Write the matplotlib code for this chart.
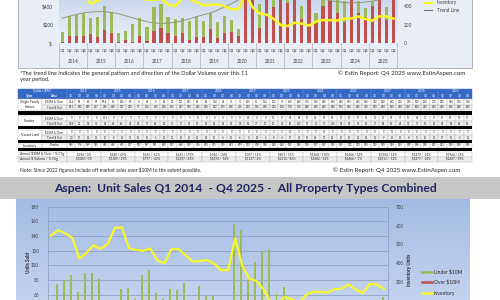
import numpy as np
import matplotlib.pyplot as plt
from matplotlib.patches import Rectangle
from matplotlib.colors import to_rgb

plt.rcParams['font.family'] = ['Lato', 'DejaVu Sans']
plt.rcParams['text.parse_math'] = False

years = [str(y) for y in range(2014, 2026)]
quarters = ['Q1', 'Q2', 'Q3', 'Q4']

# Top chart: dollar volume ($M) per quarter, all property types
dollar_total = [125, 293, 303, 321, 275, 286, 400, 339, 114, 136, 207, 268,
                179, 393, 421, 286, 257, 275, 243, 293, 239, 329, 225, 293,
                250, 150, 780, 820, 421, 700, 470, 760, 560, 700, 400, 800,
                327, 520, 720, 460, 455, 650, 455, 375, 450, 700, 392, 680]
dollar_over10 = [18, 82, 79, 82, 96, 71, 143, 114, 18, 36, 18, 82,
                 29, 132, 161, 107, 82, 114, 36, 71, 71, 154, 61, 114,
                 124, 78, 650, 700, 160, 560, 385, 620, 431, 600, 257, 680,
                 231, 400, 600, 327, 231, 540, 327, 285, 400, 580, 249, 560]
trend_line = [270, 290, 310, 325, 335, 340, 338, 330, 315, 295, 272, 250,
              232, 218, 214, 216, 225, 240, 262, 285, 305, 325, 355, 390,
              425, 465, 510, 550, 585, 610, 620, 620, 610, 590, 565, 535,
              505, 478, 458, 445, 437, 434, 436, 442, 452, 468, 490, 515]
inventory = [546, 576, 559, 535, 425, 456, 495, 477, 502, 587, 591, 480,
             471, 466, 479, 416, 400, 475, 475, 443, 409, 412, 418, 398,
             364, 364, 532, 386, 318, 307, 262, 195, 185, 222, 210, 190,
             232, 250, 248, 245, 262, 266, 288, 262, 243, 290, 288, 265]

# Bottom chart: units sold per quarter
units_under10 = [45, 74, 80, 87, 64, 89, 90, 82, 40, 48, 68, 69,
                 54, 87, 94, 63, 54, 68, 66, 76, 50, 72, 58, 60,
                 52, 38, 157, 148, 80, 104, 119, 122, 63, 70, 45, 42,
                 38, 44, 40, 47, 39, 45, 48, 50, 41, 46, 49, 57]
units_over10 = [1, 4, 4, 4, 4, 3, 6, 5, 1, 2, 1, 4,
                1, 5, 7, 5, 4, 5, 2, 3, 3, 6, 3, 5,
                5, 3, 17, 19, 7, 14, 10, 16, 11, 14, 7, 16,
                7, 10, 14, 9, 7, 13, 9, 8, 10, 14, 7, 13]

# Table rows ($M)
sfh_over = [24.6, 85, 86, 99, 99.4, 61, 146, 95, 0, 36, 0, 82,
            29, 111, 145, 96, 82, 114, 36, 71, 71, 140, 61, 114,
            113, 78, 610, 640, 150, 530, 360, 560, 420, 560, 240, 650,
            220, 380, 560, 300, 220, 500, 300, 270, 380, 540, 230, 520]
sfh_total = [95.3, 282, 259, 307, 236, 240, 397, 330, 77, 124, 165, 224,
             165, 347, 390, 262, 230, 252, 205, 268, 216, 300, 195, 268,
             224, 130, 700, 760, 360, 640, 440, 680, 500, 650, 360, 740,
             290, 480, 650, 420, 410, 600, 420, 340, 420, 640, 360, 620]
condo_over = [0, 0, 0, 0, 13.2, 0, 0, 0, 0, 0, 0, 0,
              0, 0, 0, 11, 0, 0, 0, 0, 0, 14, 0, 0,
              11, 0, 36, 48, 10, 24, 25, 54, 11, 30, 17, 24,
              11, 20, 32, 27, 11, 24, 27, 15, 20, 30, 19, 27]
condo_total = [26.8, 21, 35, 76, 36, 46, 66, 44, 25, 57, 48, 38,
               51, 37, 35, 35, 25, 24, 34, 28, 22, 56, 37, 31,
               23, 47, 80, 112, 79, 51, 75, 138, 54, 92, 78, 81,
               37, 83, 55, 46, 31, 73, 55, 28, 45, 69, 48, 65]
land_over = [0, 0, 0, 0, 0, 0, 0, 0, 0, 0, 0, 0,
             0, 0, 0, 0, 0, 0, 0, 0, 0, 0, 0, 0,
             0, 0, 12, 0, 0, 0, 16, 0, 0, 0, 0, 0,
             0, 0, 11, 0, 0, 0, 0, 0, 0, 0, 0, 0]
land_total = [3.2, 17, 14, 12, 10, 8, 18, 15, 12, 12, 5, 11,
              11, 13, 10, 21, 14, 10, 8, 15, 6, 8, 14, 8,
              8, 4, 17, 20, 13, 24, 17, 14, 10, 13, 12, 14,
              11, 9, 16, 13, 8, 15, 12, 10, 17, 11, 9, 13]
annual_over = ['$296 / 0%', '$440 / 49%', '$165 / -62%', '$453 / 175%',
               '$346 / -24%', '$397 / 15%', '$601 / 51%', '$1264 / 110%',
               '$1666 / 32%', '$1904 / 14%', '$1479 / -22%', '$1964 / 33%']
annual_total = ['$1080 / 0%', '$1389 / 29%', '$797 / -43%', '$1297 / 63%',
                '$1090 / -16%', '$1137 / 4%', '$2113 / 86%', '$2882 / 36%',
                '$2866 / -1%', '$2513 / -12%', '$1877 / -25%', '$2607 / 39%']

GREEN = '#9bbb59'
RED = '#c0504d'
YELLOW = '#f7f72a'
TREND = '#8c9c72'
W, H = 500, 300


def box(x0, y0, x1, y1):
    # pixel box (y measured from the top) -> figure rect
    return [x0 / W, 1 - y1 / H, (x1 - x0) / W, (y1 - y0) / H]


def gradient(ax, x0, y0, x1, y1, c_top, c_bot):
    t = np.linspace(0, 1, 64)[:, None, None]
    arr = (1 - t) * np.array(to_rgb(c_top)) + t * np.array(to_rgb(c_bot))
    ax.imshow(arr, extent=(x0, x1, y1, y0), origin='upper', aspect='auto',
              interpolation='bilinear', zorder=0)


fig = plt.figure(figsize=(5, 3), dpi=100)
bg = fig.add_axes([0, 0, 1, 1], zorder=0)

# ---------- top chart panel ----------
bg.add_patch(Rectangle((18, -3), 454, 71, facecolor='#e9eef6', edgecolor='#a6a6a6', lw=0.6, zorder=0))
gradient(bg, 58.9, -4, 397, 43.3, '#c6d5ec', '#edf2f9')

x = np.arange(48)
green_part = [t - o for t, o in zip(dollar_total, dollar_over10)]

ax1 = fig.add_axes(box(58.9, 43.3 - 500 * 0.0933, 397, 43.3), zorder=2)
ax1.patch.set_alpha(0)
ax1.bar(x, dollar_over10, width=0.45, color=RED)
ax1.bar(x, green_part, bottom=dollar_over10, width=0.45, color=GREEN)
ax1.plot(x, trend_line, color=TREND, lw=0.7)
ax1.set_xlim(-0.5, 47.5)
ax1.set_ylim(0, 500)
ax1.set_yticks([0, 200, 400])
ax1.set_yticklabels(['$-', '$200', '$400'])
ax1.set_xticks(x)
ax1.set_xticklabels(quarters * 12)
ax1.tick_params(axis='x', length=0, pad=3.5, labelsize=3.0, colors='#404040')
ax1.tick_params(axis='y', length=0, pad=4, labelsize=3.4, colors='#404040')
for s in ax1.spines.values():
    s.set_visible(False)
ax1.axhline(0, color='#8c8c8c', lw=0.5)
xt = ax1.get_xaxis_transform()
for k, yr in enumerate(years):
    ax1.text(4 * k + 1.5, -0.40, yr, transform=xt, ha='center', va='center',
             fontsize=3.3, color='#404040')
for k in range(13):
    ax1.plot([4 * k - 0.5] * 2, [0, -0.53], transform=xt, color='#a0a0a0',
             lw=0.4, clip_on=False)

ax2 = ax1.twinx()
ax2.plot(x, inventory, color=YELLOW, lw=1.8)
ax2.set_ylim(0, 500)
ax2.set_yticks([0, 200, 400])
ax2.tick_params(axis='y', length=0, pad=5, labelsize=3.4, colors='#404040')
for s in ax2.spines.values():
    s.set_visible(False)

# top legend
bg.plot([424, 432], [2.6, 2.6], color=YELLOW, lw=1.5)
bg.text(437, 2.6, 'Inventory', fontsize=3.4, va='center', color='#404040')
bg.plot([424, 432], [10, 10], color='#6e6e6e', lw=0.8)
bg.text(437, 10, 'Trend Line', fontsize=3.4, va='center', color='#404040')

# caption
bg.text(20, 73, '*The trend line indicates the general pattern and direction of the Dollar Volume over this 11',
        fontsize=4.1, va='center', color='#262626')
bg.text(20, 80, 'year period.', fontsize=4.1, va='center', color='#262626')
bg.text(465, 73, '\u00a9 Estin Report: Q4 2025 www.EstinAspen.com', fontsize=4.4,
        va='center', ha='right', color='#262626')

# ---------- table ----------
xq0, xq1 = 67.0, 472.0
qw = (xq1 - xq0) / 48
BLUE = '#3569c4'
GRID = '#b4b4b4'


def cell(x0, y0, w, h, fc='white', ec=GRID):
    bg.add_patch(Rectangle((x0, y0), w, h, facecolor=fc, edgecolor=ec, lw=0.3, zorder=1))


def tx(xc, yc, s, size=2.2, color='#262626', ha='center', weight='normal'):
    bg.text(xc, yc, s, fontsize=size, color=color, ha=ha, va='center',
            weight=weight, zorder=3)


def fmt(v):
    return f'{v:g}'


# header rows
cell(18, 88.5, 454, 4.5, BLUE, BLUE)
cell(18, 93, 454, 5.5, BLUE, BLUE)
tx(42, 90.8, 'Dollars ($M)', 2.3, 'white')
tx(30, 95.8, 'Type', 2.3, 'white', weight='bold')
tx(54, 95.8, 'Desc', 2.3, 'white', weight='bold')
for k, yr in enumerate(years):
    tx(xq0 + (4 * k + 2) * qw, 90.8, yr, 2.3, 'white')
    bg.plot([xq0 + 4 * k * qw] * 2, [88.5, 98.5], color='#7fa3e0', lw=0.3, zorder=2)
for i in range(48):
    tx(xq0 + (i + 0.5) * qw, 95.8, quarters[i % 4], 2.0, 'white')

groups = [
    ('Single Family\nHomes', 99.0, [('$10M & Over', sfh_over), ('Total $ Vol', sfh_total)]),
    ('Condos', 115.5, [('$10M & Over', condo_over), ('Total $ Vol', condo_total)]),
    ('Vacant Land', 129.5, [('$10M & Over', land_over), ('Total $ Vol', land_total)]),
]
rh = 5.5
for label, y0, rows in groups:
    cell(18, y0, 24, rh * len(rows))
    tx(30, y0 + rh * len(rows) / 2, label, 2.4)
    for r, (desc, vals) in enumerate(rows):
        yy = y0 + r * rh
        fc = 'white' if r == 0 else '#ececec'
        cell(42, yy, 25, rh, fc)
        tx(54.5, yy + rh / 2, desc, 2.2)
        for i, v in enumerate(vals):
            cell(xq0 + i * qw, yy, qw, rh, fc)
            tx(xq0 + (i + 0.5) * qw, yy + rh / 2, fmt(v), 1.9)

# inventory row
cell(18, 143.5, 24, 4)
cell(42, 143.5, 25, 4)
tx(30, 145.5, 'Inventory', 2.4)
tx(54.5, 145.5, 'Combo', 2.2)
for i, v in enumerate(inventory):
    cell(xq0 + i * qw, 143.5, qw, 4)
    tx(xq0 + (i + 0.5) * qw, 145.5, fmt(v), 1.9)

# black separator bands
for y0, h in [(111, 3.5), (125.5, 3), (139.5, 3.5), (148, 2.5)]:
    bg.add_patch(Rectangle((18, y0), 454, h, facecolor='black', lw=0, zorder=2))

# annual rows
for r, (desc, vals) in enumerate([('Annual $10M & Over / % Chg', annual_over),
                                   ('Annual $ Volume / % Chg', annual_total)]):
    yy = 151.5 + r * 5
    fc = 'white' if r == 0 else '#ececec'
    cell(18, yy, 49, 5, fc)
    tx(19.5, yy + 2.5, desc, 2.4, ha='left')
    for k, s in enumerate(vals):
        cell(xq0 + 4 * k * qw, yy, 4 * qw, 5, fc)
        tx(xq0 + (4 * k + 2) * qw, yy + 2.5, s, 2.2)

bg.text(20, 170, 'Note: Since 2022 figures include off market sales over $10M to the extent possible.',
        fontsize=3.5, va='center', color='#262626')
bg.text(460, 170, '\u00a9 Estin Report: Q4 2025 www.EstinAspen.com', fontsize=4.4,
        va='center', ha='right', color='#262626')

# ---------- title banner ----------
bg.add_patch(Rectangle((0, 177), 500, 22, facecolor='#c6c6c6', lw=0, zorder=1))
bg.text(245, 188.5, 'Aspen:  Unit Sales Q1 2014  - Q4 2025 -  All Property Types Combined',
        fontsize=8.7, weight='bold', color='#1f2460', ha='center', va='center', zorder=3)

# ---------- bottom chart ----------
gradient(bg, 16, 199, 470, 300, '#a3bbe4', '#c3d3ee')

ax3 = fig.add_axes(box(47.5, 206.7, 387.5, 338.8), zorder=2)
ax3.patch.set_alpha(0)
ax3.bar(x - 0.17, units_under10, width=0.28, color=GREEN, zorder=3)
ax3.bar(x + 0.17, units_over10, width=0.28, color=RED, zorder=3)
ax3.set_xlim(-0.5, 47.5)
ax3.set_ylim(0, 180)
ax3.set_yticks(range(60, 181, 20))  # lower ticks fall below the crop
ax3.set_xticks([])
ax3.grid(axis='y', color='#8ea3c6', lw=0.6)
ax3.set_axisbelow(True)
ax3.tick_params(axis='y', length=0, pad=6, labelsize=3.3, colors='#404040')
for s in ax3.spines.values():
    s.set_color('#8ea3c6')
    s.set_linewidth(0.6)

ax4 = ax3.twinx()
ax4.plot(x, inventory, color=YELLOW, lw=1.6, zorder=4)
ax4.set_ylim(0, 700)
ax4.set_yticks(range(300, 701, 100))
ax4.tick_params(axis='y', length=0, pad=6, labelsize=3.3, colors='#404040')
for s in ax4.spines.values():
    s.set_visible(False)

bg.text(28, 263, 'Units Sold', rotation=90, fontsize=3.3, weight='bold',
        ha='center', va='center', color='#262626')
bg.text(409, 270, 'Inventory Units', rotation=90, fontsize=3.3, weight='bold',
        ha='center', va='center', color='#262626')

for yy, c, lab in [(271.7, GREEN, 'Under $10M'), (282, RED, 'Over $10M'), (293, YELLOW, 'Inventory')]:
    bg.plot([422, 432], [yy, yy], color=c, lw=1.8, zorder=3)
    bg.text(434, yy, lab, fontsize=3.6, va='center', color='#262626', zorder=3)

bg.set_xlim(0, W)
bg.set_ylim(H, 0)
bg.axis('off')

fig.savefig('out.png', dpi=100)
